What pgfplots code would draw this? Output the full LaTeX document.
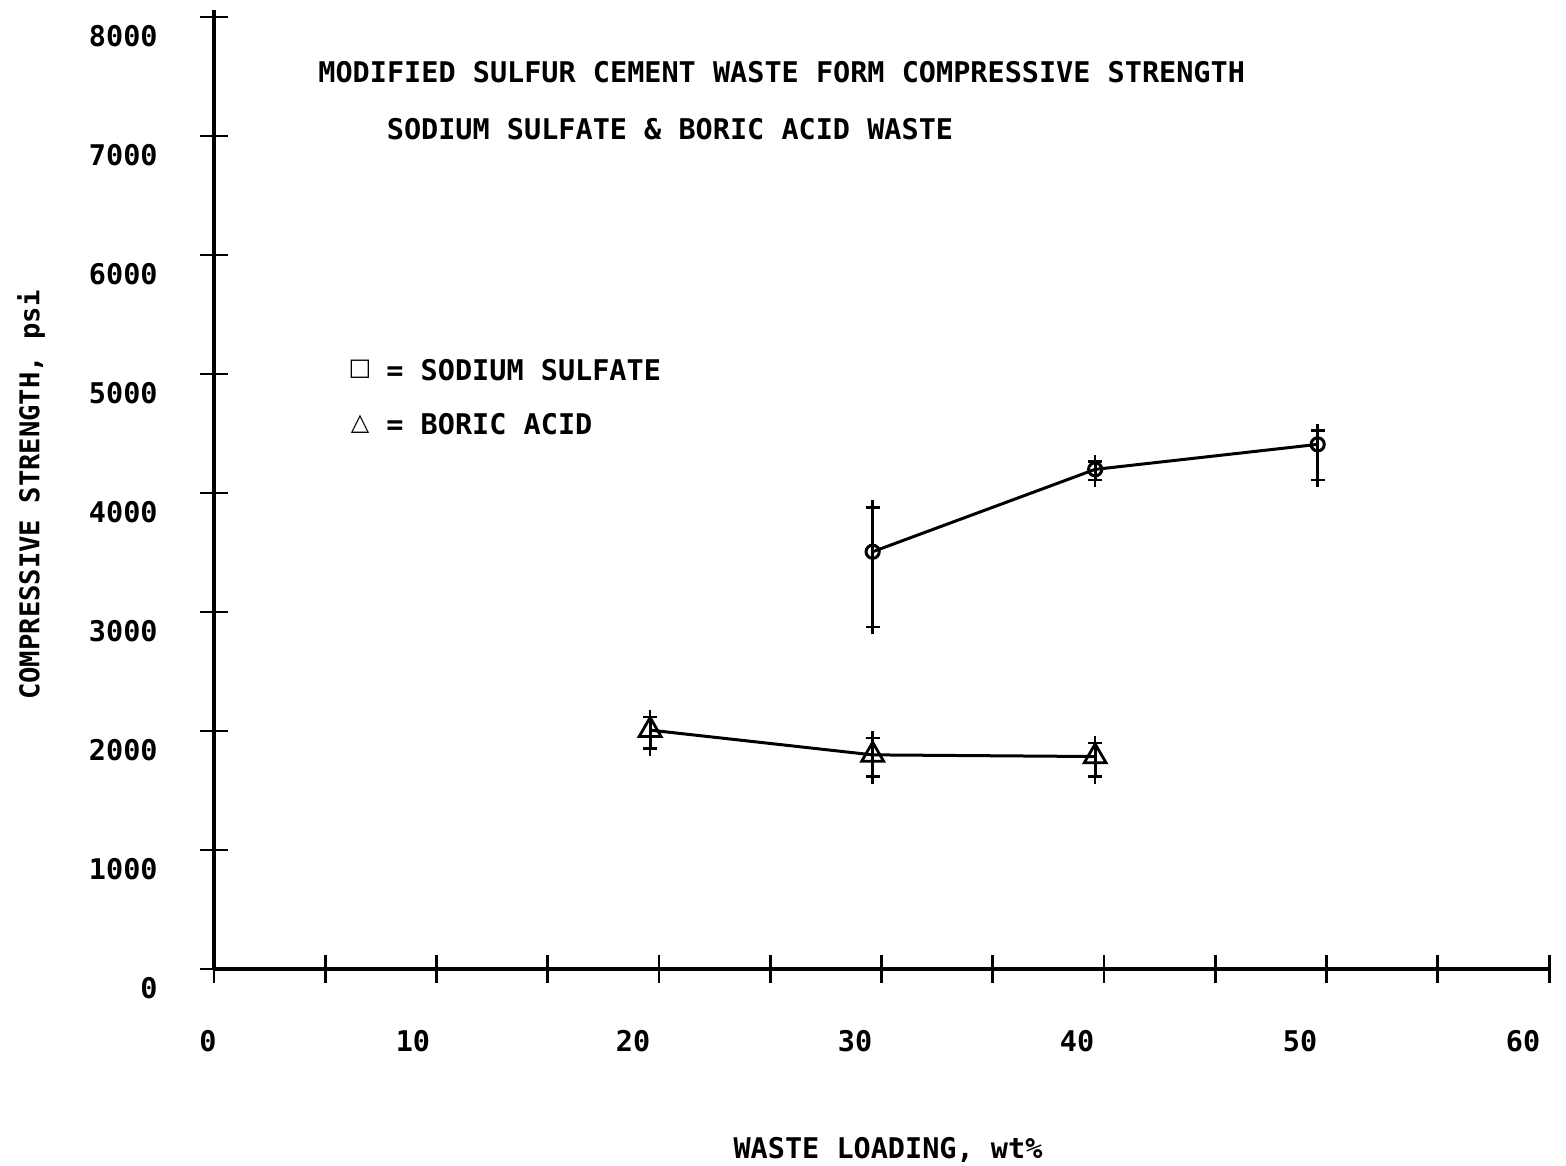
\documentclass[border=0pt]{standalone}
\usepackage{pgfplots}
\pgfplotsset{compat=1.18}
\usepackage{fontspec}
\setmainfont{DejaVu Sans Mono}[UprightFont=*-Bold]
\newfontfamily\symfont{DejaVu Sans}[UprightFont=* Bold]
\begin{document}
\begin{tikzpicture}
\begin{axis}[
  scale only axis, width=668.6pt, height=479.5pt,
  xmin=0, xmax=60.1, ymin=0, ymax=8059,
  axis lines=left,
  axis line style={-, line width=1.6pt},
  x axis line style={-}, y axis line style={-},
  tick align=center, major tick length=14pt,
  every tick/.style={black, line width=1.4pt},
  xtick={0,5,...,60}, xticklabels={},
  extra x ticks={0,8.94,18.83,28.81,38.79,48.81,58.83},
  extra x tick labels={{0\hspace*{6pt}},10,20,30,40,50,60},
  extra x tick style={major tick length=0pt, xticklabel style={anchor=north, inner sep=0pt, yshift=-30.5pt}},
  ytick={0,1000,...,8000},
  yticklabel style={anchor=east, inner sep=0pt, yshift=-9.5pt, xshift=-21pt},
  /pgf/number format/assume math mode=true,
  /pgf/number format/1000 sep={},
  clip=false,
  font=\fontsize{14.25}{17}\selectfont,
  xlabel={WASTE LOADING, wt\%},
  xlabel style={at={(axis cs:30.29,-1521)}, anchor=center, inner sep=0pt},
  ylabel={COMPRESSIVE STRENGTH, psi},
  ylabel style={at={(axis cs:-8.22,3983)}, anchor=center, rotate=0, inner sep=0pt, font=\fontsize{13.6}{16}\selectfont},
]
\path (axis cs:-9.618,8143) rectangle (axis cs:60.76,-1647);

\addplot[black, line width=1.5pt, mark=o, mark size=3.3pt, mark options={fill=white, solid, line width=1.5pt},
  error bars/.cd, y dir=both, y explicit,
  error bar style={line width=1.4pt}, error mark=+, error mark options={mark size=3.5pt, line width=1.3pt}]
  coordinates {
    (29.6,3507) += (0,373) -= (0,631)
    (39.6,4199) += (0,64) -= (0,90)
    (49.6,4409) += (0,115) -= (0,300)
  };

\addplot[black, line width=1.5pt, mark=triangle, mark size=6.3pt, mark options={fill=white, solid, line width=1.4pt},
  error bars/.cd, y dir=both, y explicit,
  error bar style={line width=1.4pt}, error mark=+, error mark options={mark size=3.5pt, line width=1.3pt}]
  coordinates {
    (19.6,2008) += (0,110) -= (0,155)
    (29.6,1800) += (0,141) -= (0,183)
    (39.6,1786) += (0,113) -= (0,169)
  };

\node[anchor=west, inner sep=0pt] at (axis cs:4.674,7538) {MODIFIED SULFUR CEMENT WASTE FORM COMPRESSIVE STRENGTH};
\node[anchor=west, inner sep=0pt] at (axis cs:7.75,7059) {SODIUM SULFATE \& BORIC ACID WASTE};

\node[inner sep=0pt] at (axis cs:6.56,5040) {\symfont\fontsize{12}{14}\selectfont □};
\node[anchor=west, inner sep=0pt] at (axis cs:7.73,5034) {= SODIUM SULFATE};
\node[inner sep=0pt] at (axis cs:6.56,4580) {\symfont\fontsize{12}{14}\selectfont △};
\node[anchor=west, inner sep=0pt] at (axis cs:7.73,4580) {= BORIC ACID};
\end{axis}
\end{tikzpicture}
\end{document}
